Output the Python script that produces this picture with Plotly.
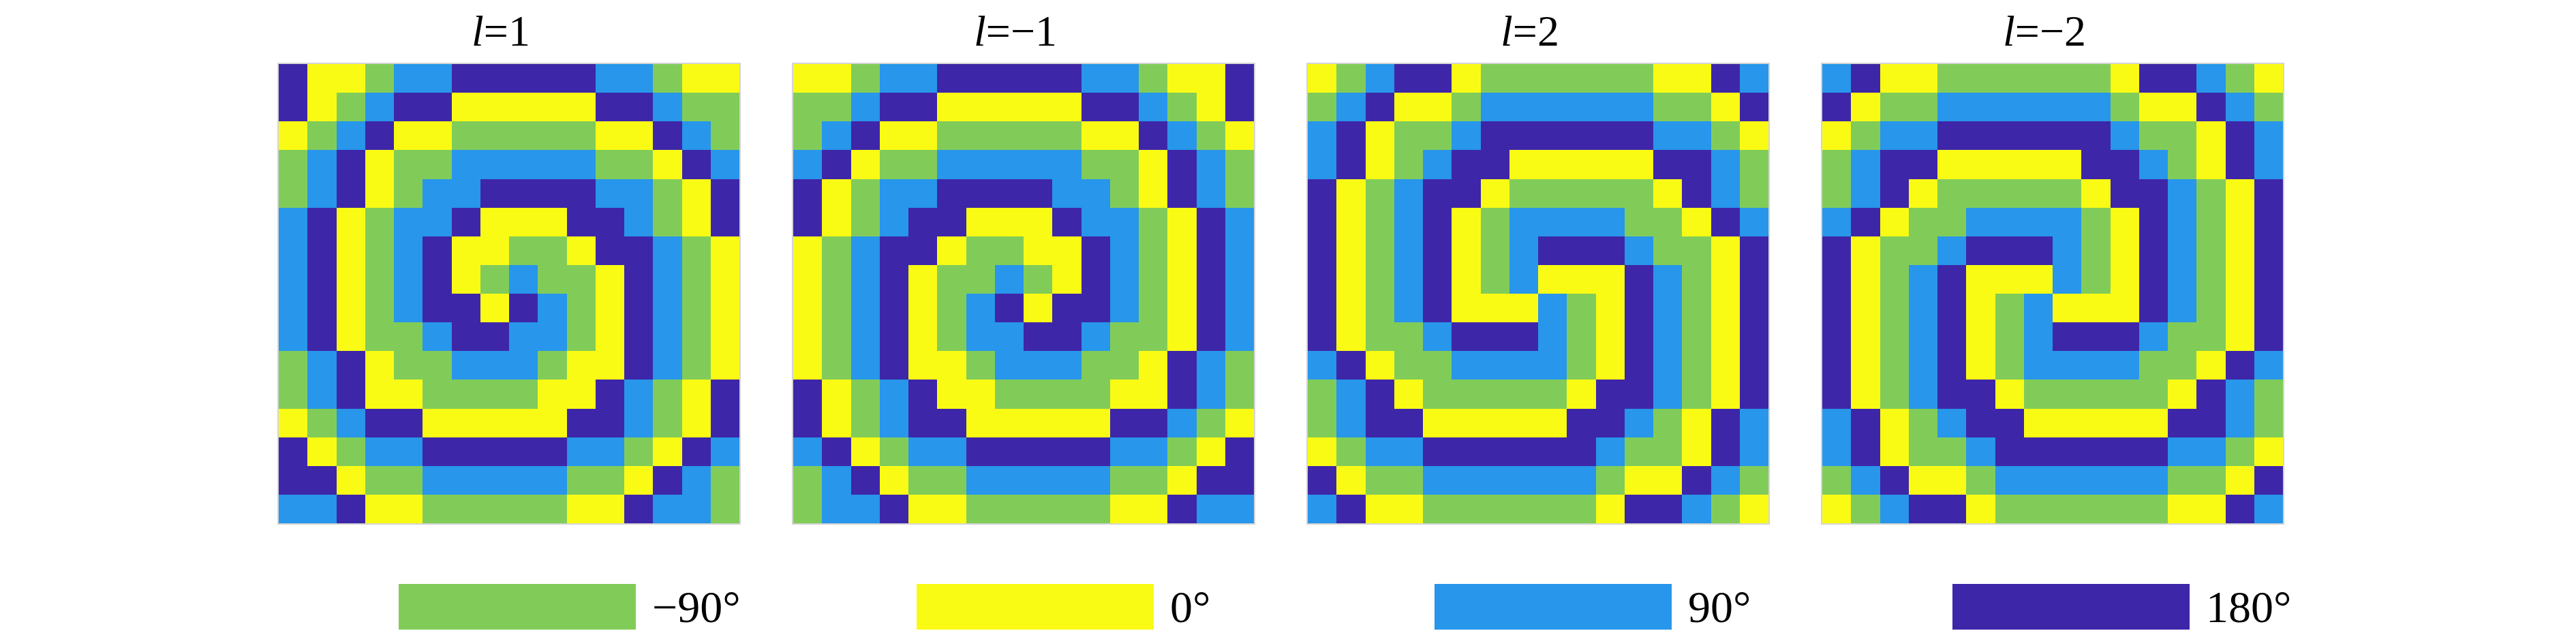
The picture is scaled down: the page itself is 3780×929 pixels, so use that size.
import plotly.graph_objects as go

W, H = 3780, 929

# phase codes: G=-90, Y=0, B=90, D=180
PHASE = {"G": -90, "Y": 0, "B": 90, "D": 180}

grid_l1 = [
    "DYYGBBDDDDDBBGYY",
    "DYGBDDYYYYYDDBGG",
    "YGBDYYGGGGGYYDBG",
    "GBDYGGBBBBBGGYDB",
    "GBDYGBBDDDDBBGYD",
    "BDYGBBDYYYDDBGYD",
    "BDYGBDYYGGYDDBGY",
    "BDYGBDYGBGGYDBGY",
    "BDYGBDDYDBGYDBGY",
    "BDYGGBDDBBGYDBGY",
    "GBDYGGBBBGYYDBGY",
    "GBDYYGGGGYYDBGYD",
    "YGBDDYYYYYDDBGYD",
    "DYGBBDDDDDBBGYDB",
    "DDYGGBBBBBGGYDBG",
    "BBDYYGGGGGYYDBBG",
]

grid_lm1 = [
    "YYGBBDDDDDBBGYYD",
    "GGBDDYYYYYDDBGYD",
    "GBDYYGGGGGYYDBGY",
    "BDYGGBBBBBGGYDBG",
    "DYGBBDDDDBBGYDBG",
    "DYGBDDYYYDBBGYDB",
    "YGBDDYGGYYDBGYDB",
    "YGBDYGGBGYDBGYDB",
    "YGBDYGBDYDDBGYDB",
    "YGBDYGBBDDBGGYDB",
    "YGBDYYGBBBGGYDBG",
    "DYGBDYYGGGGYYDBG",
    "DYGBDDYYYYYDDBGY",
    "BDYGBBDDDDDBBGYD",
    "GBDYGGBBBBBGGYDD",
    "GBBDYYGGGGGYYDBB",
]

grid_l2 = [
    "YGBDDYGGGGGGYYDB",
    "GBDYYGBBBBBBGGYD",
    "BDYGGBDDDDDDBBGY",
    "BDYGBDDYYYYYDDBG",
    "DYGBDDYGGGGGYDBG",
    "DYGBDYGBBBBGGYDB",
    "DYGBDYGBDDDBGGYD",
    "DYGBDYGBYYYDBGYD",
    "DYGBDYYYBGYDBGYD",
    "DYGGBDDDBGYDBGYD",
    "BDYGGBBBBGYDBGYD",
    "GBDYGGGGGYDDBGYD",
    "GBDDYYYYYDDBGYDB",
    "YGBBDDDDDDBGGYDB",
    "DYGGBBBBBBGYYDBG",
    "BDYYGGGGGGYDDBGY",
]

grid_lm2 = [
    "BDYYGGGGGGYDDBGY",
    "DYGGBBBBBBGYYDBG",
    "YGBBDDDDDDBGGYDB",
    "GBDDYYYYYDDBGYDB",
    "GBDYGGGGGYDDBGYD",
    "BDYGGBBBBGYDBGYD",
    "DYGGBDDDBGYDBGYD",
    "DYGBDYYYBGYDBGYD",
    "DYGBDYGBYYYDBGYD",
    "DYGBDYGBDDDBGGYD",
    "DYGBDYGBBBBGGYDB",
    "DYGBDDYGGGGGYDBG",
    "BDYGBDDYYYYYDDBG",
    "BDYGGBDDDDDDBBGY",
    "GBDYYGBBBBBBGGYD",
    "YGBDDYGGGGGGYYDB",
]

titles = ["<i>l</i>=1", "<i>l</i>=\u22121", "<i>l</i>=2", "<i>l</i>=\u22122"]
grids = [grid_l1, grid_lm1, grid_l2, grid_lm2]

levels = [-90, 0, 90, 180]
level_labels = ["\u221290\u00b0", "0\u00b0", "90\u00b0", "180\u00b0"]
level_colors = ["#81CC59", "#F9FB15", "#2796EB", "#3E26A8"]

FONT = "Liberation Serif, DejaVu Serif, serif"

fig = go.Figure()

# panel geometry (pixels in a 3780x929 page)
left0, step, pw = 401, 755, 676
top, bottom = 86, 760

colorscale = [[(v - levels[0]) / (levels[-1] - levels[0]), c] for v, c in zip(levels, level_colors)]

annotations = []
for i, (grid, title) in enumerate(zip(grids, titles)):
    z = [[PHASE[ch] for ch in row] for row in grid]
    n = len(z[0])
    ax = "" if i == 0 else str(i + 1)
    fig.add_trace(go.Heatmap(
        z=z, x=list(range(n)), y=list(range(len(z))),
        colorscale=colorscale, zmin=levels[0], zmax=levels[-1],
        showscale=False, xaxis="x" + ax, yaxis="y" + ax,
        hovertemplate="phase: %{z}\u00b0<extra></extra>"))
    x0 = (left0 + i * step) / W
    x1 = (left0 + i * step + pw) / W
    axis_style = dict(showline=True, mirror=True, linecolor="#d4d4d4", linewidth=2,
                      showticklabels=False, ticks="", showgrid=False, zeroline=False)
    fig.layout["xaxis" + ax] = dict(domain=[x0, x1], range=[-0.5, n - 0.5],
                                    anchor="y" + ax, **axis_style)
    fig.layout["yaxis" + ax] = dict(domain=[1 - bottom / H, 1 - top / H],
                                    range=[len(z) - 0.5, -0.5],
                                    anchor="x" + ax, **axis_style)
    # titles sit a little left of the panel centre, as in the reference
    annotations.append(dict(text=title, x=(x0 + x1) / 2 - 12 / W, y=1.0,
                            xref="paper", yref="paper", xanchor="center", yanchor="top",
                            showarrow=False, font=dict(family=FONT, size=64, color="black")))

# legend: colour bars with labels
shapes = []
bar0, bar_step, bar_w = 577, 760, 348
for k, (lab, col) in enumerate(zip(level_labels, level_colors)):
    bx0 = (bar0 + k * bar_step) / W
    bx1 = (bar0 + k * bar_step + bar_w) / W
    shapes.append(dict(type="rect", xref="paper", yref="paper",
                       x0=bx0, x1=bx1, y0=1 - 916 / H, y1=1 - 849 / H,
                       fillcolor=col, line=dict(width=0)))
    annotations.append(dict(text=lab, x=bx1 + 22 / W, y=1 - 882 / H,
                            xref="paper", yref="paper", xanchor="left", yanchor="middle",
                            showarrow=False, font=dict(family=FONT, size=66, color="black")))

fig.update_layout(
    width=W, height=H,
    margin=dict(l=0, r=0, t=0, b=0),
    paper_bgcolor="white", plot_bgcolor="white",
    shapes=shapes, annotations=annotations,
    showlegend=False,
)

fig.write_html("out.html")
